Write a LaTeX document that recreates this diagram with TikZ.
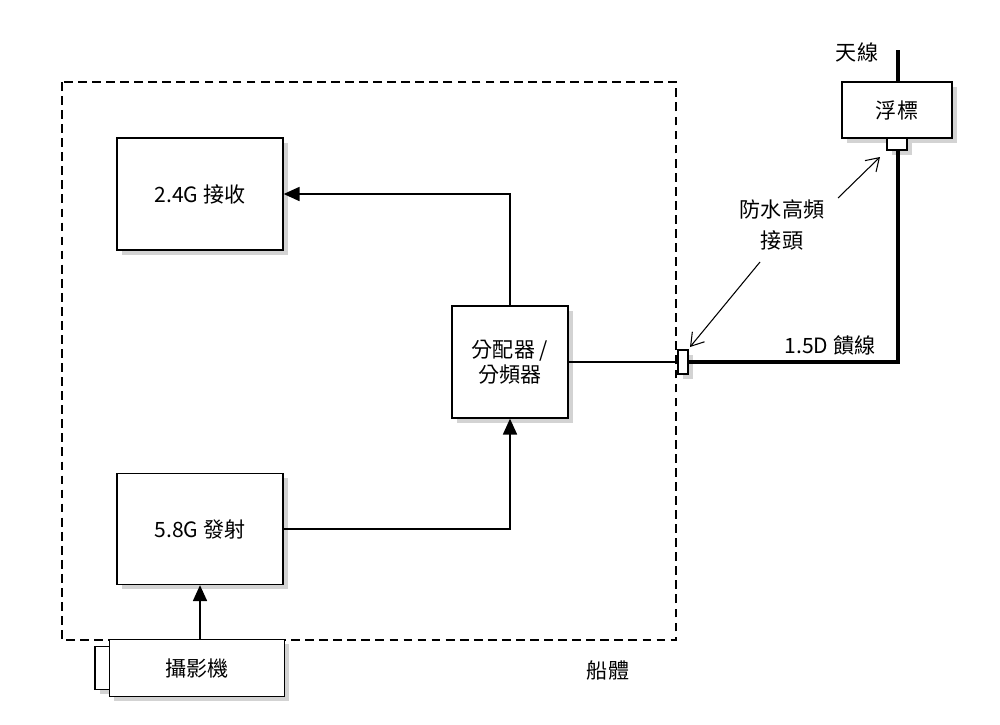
\documentclass[tikz,border=0pt]{standalone}
\usepackage{fontspec}
\setmainfont{Noto Sans CJK TC}
\usetikzlibrary{positioning, shadows, arrows.meta}

\begin{document}
\begin{tikzpicture}[
					x=0.02cm, y=-0.02cm,
					box/.style={draw, thick, fill=white, drop shadow={opacity=0.35}, inner sep=0pt, font=\large},
					feed/.style={line width=2.2pt},
					flow/.style={thick, -{Triangle[length=9pt, width=8pt]}},
					tag/.style={semithick, -{Straight Barb[length=7pt, width=9pt]}}
					]
					\useasboundingbox (0,0) rectangle (1000,724);
					% Hull
					\draw[thick, dash pattern=on 5pt off 3pt] (62,82) rectangle (676,640);
					\node at (608,670) {\large 船體};
					
					% Nodes
					\node [box, minimum width=3.32cm, minimum height=2.24cm] (RX) at (200,194) {2.4G 接收};
					\node [box, minimum width=3.32cm, minimum height=2.22cm] (TX) at (200,529) {5.8G 發射};
					\node [box, minimum width=2.32cm, minimum height=2.24cm, align=center] (Split) at (510,362) {分配器 /\\分頻器};
					\node [box, minimum width=0.36cm, minimum height=0.86cm] (CamTab) at (104,668) {};
					\node [box, minimum width=3.5cm, minimum height=1.14cm] (Cam) at (197,668) {攝影機};
					\node [box, minimum width=2.2cm, minimum height=1.12cm] (Buoy) at (897,110) {浮標};
					\node [box, minimum width=0.4cm, minimum height=0.24cm] (BuoyPort) at (897,144) {};
					\node [box, minimum width=0.2cm, minimum height=0.48cm] (HullPort) at (683,362) {};
					\coordinate (AntTop) at (898,50);
					\coordinate (Bend) at (898,362);
					
					% Labels
					\node at (857,52) {\large 天線};
					\node [align=center, font=\large, inner sep=1pt] (Tag) at (782,225) {防水高頻\\[4pt]接頭};
					\node at (830,345) {\large 1.5D 饋線};
					
					% Edges
					\draw[feed] (AntTop) -- (Buoy.north -| AntTop);
					\draw[feed] (BuoyPort.south -| AntTop) -- (Bend) -- (HullPort.east);
					\draw[thick] (Split.east) -- (HullPort.west);
					\draw[flow] (Split.north) |- (RX.east);
					\draw[flow] (TX.east) -| (Split.south);
					\draw[flow] (Cam.north -| TX.south) -- (TX.south);
					\coordinate (TagNE) at (838,198);
					\coordinate (TagSW) at (760,262);
					\draw[tag] (TagNE) -- (880,157);
					\draw[tag] (TagSW) -- (690,347);
				\end{tikzpicture}
\end{document}
